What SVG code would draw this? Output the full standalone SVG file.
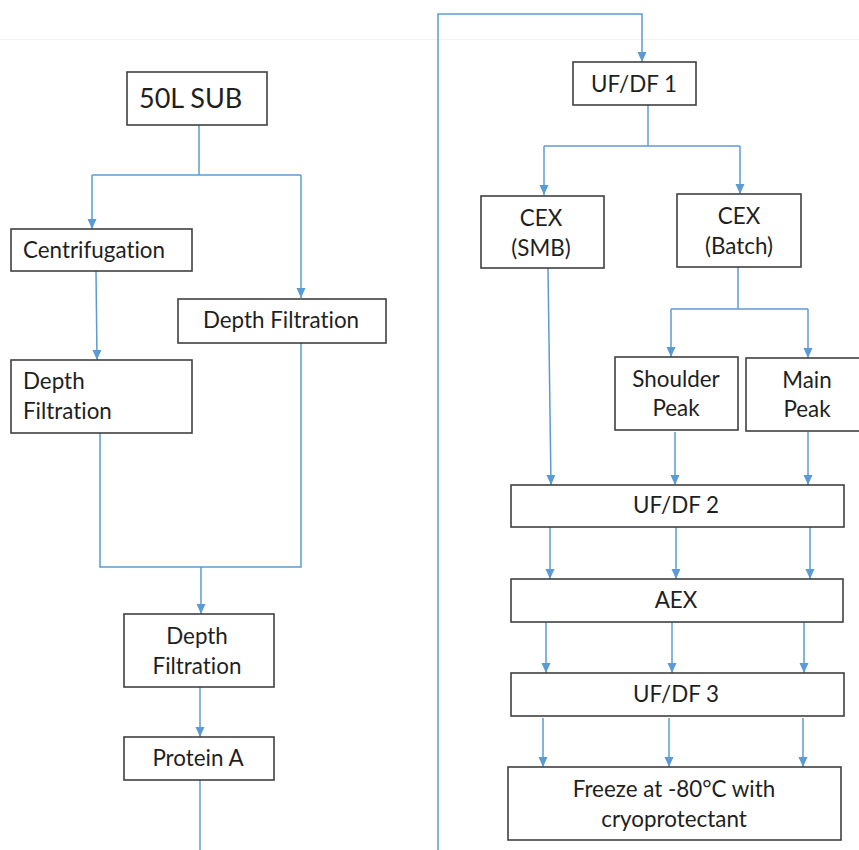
<svg xmlns="http://www.w3.org/2000/svg" width="859" height="850" viewBox="0 0 859 850">
  <style>
    .box { fill: #ffffff; stroke: #404040; stroke-width: 1.6; }
    .lbl { font-family: Lato, "Open Sans", "Liberation Sans", sans-serif; font-size: 22.4px; fill: #1f1f1f; font-variant-ligatures: none; }
    .mid { text-anchor: middle; }
    .wire { fill: none; stroke: #5b9bd5; stroke-width: 1.5; }
  </style>
  <defs>
    <marker id="arrow" viewBox="0 0 10 10" refX="10" refY="5" markerWidth="10" markerHeight="10" markerUnits="userSpaceOnUse" orient="auto">
      <path d="M0,0.5 L10,5 L0,9.5 Z" fill="#5b9bd5"/>
    </marker>
  </defs>
  <rect width="859" height="850" fill="#ffffff"/>
  <line x1="0" y1="39.5" x2="859" y2="39.5" stroke="#f2f2f2" stroke-width="1"/>

  <g id="connectors">
    <!-- left branch -->
    <path class="wire" d="M199,125 V175"/>
    <path class="wire" d="M92,175 H301"/>
    <path class="wire" d="M92,175 V229" marker-end="url(#arrow)"/>
    <path class="wire" d="M301,175 V298" marker-end="url(#arrow)"/>
    <path class="wire" d="M96,271 L97,360" marker-end="url(#arrow)"/>
    <path class="wire" d="M100,433 V567 H301 V343"/>
    <path class="wire" d="M201,567 V614" marker-end="url(#arrow)"/>
    <path class="wire" d="M200,687 V737" marker-end="url(#arrow)"/>
    <path class="wire" d="M200,780 V850"/>
    <!-- crossover to right column -->
    <path class="wire" d="M438,850 V14 H642 V62" marker-end="url(#arrow)"/>
    <path class="wire" d="M648,105 V146"/>
    <path class="wire" d="M544,146 H740"/>
    <path class="wire" d="M544,146 V195" marker-end="url(#arrow)"/>
    <path class="wire" d="M740,146 V194" marker-end="url(#arrow)"/>
    <path class="wire" d="M548,268 L551,485" marker-end="url(#arrow)"/>
    <path class="wire" d="M738,267 V309"/>
    <path class="wire" d="M671,309 H808"/>
    <path class="wire" d="M671,309 V357" marker-end="url(#arrow)"/>
    <path class="wire" d="M808,309 V358" marker-end="url(#arrow)"/>
    <path class="wire" d="M675,432 V485" marker-end="url(#arrow)"/>
    <path class="wire" d="M808,432 V485" marker-end="url(#arrow)"/>
    <path class="wire" d="M550,527 V579" marker-end="url(#arrow)"/>
    <path class="wire" d="M676,527 V579" marker-end="url(#arrow)"/>
    <path class="wire" d="M810,527 V579" marker-end="url(#arrow)"/>
    <path class="wire" d="M546,622 V673" marker-end="url(#arrow)"/>
    <path class="wire" d="M672,622 V673" marker-end="url(#arrow)"/>
    <path class="wire" d="M804,622 V673" marker-end="url(#arrow)"/>
    <path class="wire" d="M543,718 V767" marker-end="url(#arrow)"/>
    <path class="wire" d="M669,718 V767" marker-end="url(#arrow)"/>
    <path class="wire" d="M803,718 V767" marker-end="url(#arrow)"/>
  </g>

  <g id="sub50">
    <rect class="box" x="127" y="72" width="140" height="53"/>
    <text class="lbl" x="139" y="108" style="font-size:27px">50L SUB</text>
  </g>
  <g id="centrifugation">
    <rect class="box" x="11" y="229" width="181" height="42"/>
    <text class="lbl" x="23" y="258">Centrifugation</text>
  </g>
  <g id="depth-right">
    <rect class="box" x="178" y="299" width="208" height="44"/>
    <text class="lbl mid" x="281" y="328">Depth Filtration</text>
  </g>
  <g id="depth-left">
    <rect class="box" x="11" y="360" width="181" height="73"/>
    <text class="lbl" x="23" y="389">Depth</text>
    <text class="lbl" x="23" y="419">Filtration</text>
  </g>
  <g id="depth-merged">
    <rect class="box" x="124" y="614" width="150" height="73"/>
    <text class="lbl mid" x="197" y="644">Depth</text>
    <text class="lbl mid" x="197" y="674">Filtration</text>
  </g>
  <g id="protein-a">
    <rect class="box" x="124" y="737" width="150" height="43"/>
    <text class="lbl mid" x="198" y="766">Protein A</text>
  </g>
  <g id="ufdf1">
    <rect class="box" x="573" y="62" width="123" height="43"/>
    <text class="lbl mid" x="634" y="92">UF/DF 1</text>
  </g>
  <g id="cex-smb">
    <rect class="box" x="481" y="196" width="123" height="72"/>
    <text class="lbl mid" x="541" y="226">CEX</text>
    <text class="lbl mid" x="541" y="256">(SMB)</text>
  </g>
  <g id="cex-batch">
    <rect class="box" x="677" y="194" width="124" height="73"/>
    <text class="lbl mid" x="739" y="224">CEX</text>
    <text class="lbl mid" x="739" y="254">(Batch)</text>
  </g>
  <g id="shoulder-peak">
    <rect class="box" x="615" y="357" width="123" height="73"/>
    <text class="lbl mid" x="676" y="387">Shoulder</text>
    <text class="lbl mid" x="676" y="416">Peak</text>
  </g>
  <g id="main-peak">
    <rect class="box" x="746" y="358" width="114" height="73"/>
    <text class="lbl mid" x="807" y="388">Main</text>
    <text class="lbl mid" x="807" y="417">Peak</text>
  </g>
  <g id="ufdf2">
    <rect class="box" x="511" y="485" width="333" height="42"/>
    <text class="lbl mid" x="676" y="513">UF/DF 2</text>
  </g>
  <g id="aex">
    <rect class="box" x="511" y="579" width="332" height="43"/>
    <text class="lbl mid" x="676" y="608">AEX</text>
  </g>
  <g id="ufdf3">
    <rect class="box" x="511" y="673" width="333" height="43"/>
    <text class="lbl mid" x="676" y="702">UF/DF 3</text>
  </g>
  <g id="freeze">
    <rect class="box" x="508" y="767" width="333" height="73"/>
    <text class="lbl mid" x="674" y="797">Freeze at -80°C with</text>
    <text class="lbl mid" x="674" y="827">cryoprotectant</text>
  </g>
</svg>
